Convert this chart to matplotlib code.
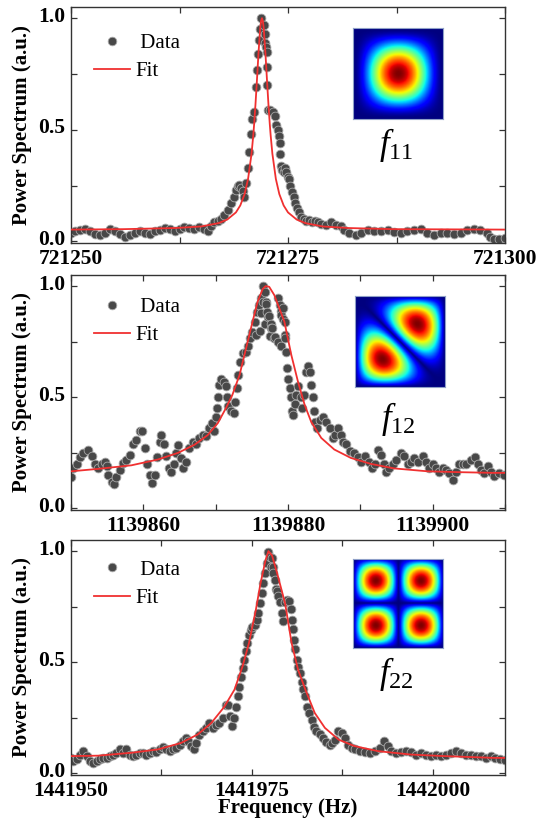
import numpy as np
import matplotlib
matplotlib.use('Agg')
import matplotlib.pyplot as plt
import matplotlib.transforms as mtransforms
from matplotlib.lines import Line2D

plt.rcParams['font.family'] = 'Liberation Serif'
plt.rcParams['mathtext.fontset'] = 'custom'
plt.rcParams['mathtext.rm'] = 'Liberation Serif'
plt.rcParams['mathtext.it'] = 'Liberation Serif:italic'

# ---- DATA (frequency offsets in Hz from the base frequency of each panel) ----
f11_base = 721250
f11_x = [0.0, 0.46, 1.03, 1.6, 2.18, 2.75, 3.33, 3.9, 4.47, 5.05, 5.62, 6.19, 6.77, 7.34, 7.91,
         8.49, 9.06, 9.63, 10.2, 10.78, 11.35, 11.93, 12.5, 13.07, 13.65, 14.22, 14.79, 15.37,
         15.75, 16.13, 16.51, 16.9, 17.28, 17.66, 18.04, 18.42, 18.8, 19.0, 19.19, 19.4, 19.57,
         19.8, 19.95, 20.15, 20.34, 20.53, 20.72, 20.91, 21.1, 21.29, 21.41, 21.56, 21.67, 21.79,
         21.94, 22.23, 22.31, 22.35, 22.5, 22.58, 22.58, 22.62, 22.73, 22.96, 23.27, 23.5, 23.65,
         23.81, 23.96, 24.04, 24.12, 24.23, 24.35, 24.5, 24.65, 24.81, 24.96, 25.12, 25.27, 25.42,
         25.65, 25.85, 26.04, 26.27, 26.54, 26.81, 27.12, 27.42, 27.73, 28.08, 28.46, 28.85, 29.42,
         30.0, 30.58, 31.15, 31.5, 32.07, 32.84, 33.41, 34.17, 34.94, 35.7, 36.47, 37.23, 38.0,
         38.76, 39.53, 40.29, 41.06, 41.82, 42.58, 43.35, 44.11, 44.88, 45.64, 46.41, 47.17, 47.94,
         48.32, 48.7, 49.3, 50.0]
f11_y = [0.040, 0.045, 0.050, 0.055, 0.045, 0.035, 0.030, 0.040, 0.055, 0.045, 0.035, 0.020, 0.030,
         0.040, 0.045, 0.040, 0.035, 0.045, 0.050, 0.060, 0.055, 0.045, 0.055, 0.065, 0.060, 0.055,
         0.065, 0.055, 0.045, 0.070, 0.085, 0.090, 0.100, 0.120, 0.140, 0.170, 0.200, 0.230, 0.250,
         0.255, 0.240, 0.225, 0.200, 0.260, 0.330, 0.400, 0.480, 0.550, 0.580, 0.690, 0.770, 0.840,
         0.900, 0.950, 1.000, 0.970, 0.930, 0.890, 0.870, 0.850, 0.780, 0.700, 0.590, 0.590, 0.580,
         0.560, 0.520, 0.500, 0.470, 0.440, 0.390, 0.340, 0.320, 0.310, 0.330, 0.310, 0.290, 0.280,
         0.250, 0.220, 0.200, 0.170, 0.150, 0.130, 0.110, 0.100, 0.090, 0.095, 0.085, 0.090, 0.085,
         0.080, 0.075, 0.085, 0.075, 0.070, 0.050, 0.037, 0.030, 0.037, 0.050, 0.045, 0.048, 0.050,
         0.042, 0.037, 0.045, 0.050, 0.055, 0.037, 0.030, 0.037, 0.037, 0.035, 0.037, 0.050, 0.055,
         0.050, 0.037, 0.022, 0.012, 0.010, 0.015]
f11_fit_x = [0, 6, 12, 15, 17, 18, 19, 19.5, 20, 20.4, 20.8, 21.0, 21.1, 21.25, 21.4, 21.6, 21.8,
             21.9, 22.0, 22.1, 22.2, 22.4, 22.6, 22.75, 22.9, 23.0, 23.2, 23.6, 24.0, 24.5, 25.0,
             26.0, 27.0, 29.0, 32.0, 37.0, 44.0, 50.0]
f11_fit_y = [0.053, 0.055, 0.060, 0.067, 0.082, 0.098, 0.130, 0.161, 0.212, 0.280, 0.393, 0.476,
             0.526, 0.612, 0.708, 0.843, 0.956, 0.988, 1.000, 0.988, 0.956, 0.843, 0.708, 0.612,
             0.526, 0.476, 0.393, 0.280, 0.212, 0.161, 0.130, 0.098, 0.082, 0.067, 0.060, 0.055,
             0.054, 0.053]

f12_base = 1139850
f12_x = [0.0, 0.32, 0.78, 1.24, 1.7, 2.39, 2.84, 3.3, 3.76, 4.22, 4.68, 4.91, 5.14, 5.6, 5.96, 6.28,
         6.74, 7.2, 7.66, 8.12, 8.58, 9.04, 9.5, 9.82, 10.18, 10.55, 10.87, 11.19, 11.56, 11.93,
         12.25, 12.48, 12.84, 13.17, 13.49, 13.85, 14.22, 14.54, 14.77, 15.14, 15.46, 15.92, 16.38,
         16.83, 17.29, 17.75, 18.21, 18.67, 19.13, 19.45, 19.82, 20.05, 20.18, 20.28, 20.41, 20.73,
         21.1, 21.42, 21.56, 21.74, 22.11, 22.48, 22.66, 22.94, 23.12, 23.39, 23.72, 24.17, 24.5,
         24.77, 25.09, 25.41, 25.61, 25.69, 26.01, 26.07, 26.3, 26.33, 26.53, 26.61, 26.76, 26.79,
         26.93, 26.99, 27.16, 27.22, 27.39, 27.45, 27.61, 27.68, 27.84, 28.07, 28.14, 28.6, 28.62,
         28.85, 29.06, 29.06, 29.08, 29.29, 29.31, 29.52, 29.54, 29.6, 29.77, 29.91, 30.0, 30.23,
         30.46, 30.5, 30.69, 30.92, 31.15, 31.38, 31.75, 31.93, 32.21, 32.53, 32.76, 32.99, 33.22,
         33.45, 33.59, 33.77, 34.05, 34.37, 34.83, 35.29, 35.75, 36.21, 36.53, 36.9, 37.26, 37.59,
         38.05, 38.51, 39.1, 39.66, 40.11, 40.67, 41.13, 41.59, 42.05, 42.41, 42.87, 43.24, 43.56,
         44.02, 44.48, 44.94, 45.63, 46.09, 46.55, 47.01, 47.47, 47.93, 48.62, 49.08, 49.54, 50.0,
         50.46, 50.92, 51.38, 51.84, 52.3, 52.76, 53.22, 53.68, 54.14, 54.6, 55.29, 55.84, 56.21,
         56.67, 57.13, 57.59, 58.05, 58.51, 59.2, 59.9]
f12_y = [0.14, 0.18, 0.20, 0.23, 0.25, 0.265, 0.235, 0.20, 0.18, 0.20, 0.21, 0.19, 0.15, 0.12, 0.108,
         0.14, 0.175, 0.205, 0.22, 0.24, 0.29, 0.31, 0.35, 0.35, 0.27, 0.20, 0.15, 0.115, 0.15, 0.23,
         0.30, 0.33, 0.29, 0.235, 0.18, 0.165, 0.20, 0.25, 0.285, 0.227, 0.18, 0.21, 0.27, 0.30,
         0.29, 0.317, 0.33, 0.325, 0.36, 0.385, 0.35, 0.41, 0.45, 0.50, 0.556, 0.58, 0.57, 0.55,
         0.50, 0.46, 0.44, 0.43, 0.48, 0.54, 0.60, 0.66, 0.70, 0.705, 0.73, 0.765, 0.795, 0.84, 0.78,
         0.885, 0.915, 0.80, 0.88, 0.945, 0.93, 1.0, 0.83, 0.975, 0.93, 0.92, 0.885, 0.86, 0.865,
         0.775, 0.83, 0.81, 0.81, 0.765, 0.77, 0.75, 0.945, 0.915, 0.89, 0.73, 0.87, 0.85, 0.90,
         0.78, 0.84, 0.765, 0.705, 0.63, 0.58, 0.54, 0.50, 0.44, 0.42, 0.47, 0.51, 0.55, 0.50, 0.45,
         0.51, 0.615, 0.64, 0.615, 0.556, 0.50, 0.44, 0.39, 0.36, 0.40, 0.41, 0.39, 0.36, 0.317,
         0.33, 0.36, 0.33, 0.30, 0.29, 0.257, 0.25, 0.23, 0.21, 0.235, 0.21, 0.18, 0.20, 0.265,
         0.24, 0.20, 0.165, 0.18, 0.20, 0.22, 0.25, 0.235, 0.20, 0.21, 0.227, 0.21, 0.235, 0.21,
         0.18, 0.20, 0.18, 0.165, 0.18, 0.175, 0.16, 0.13, 0.165, 0.20, 0.20, 0.20, 0.22, 0.23,
         0.20, 0.175, 0.16, 0.19, 0.165, 0.145, 0.16, 0.15]
f12_fit_x = [0, 3.76, 8.35, 12.0, 14.8, 17.1, 18.9, 20.3, 21.4, 22.3, 23.3, 24.2, 25.1, 25.8, 26.5,
             26.9, 27.4, 28.1, 28.8, 29.5, 30.46, 31.38, 32.3, 33.2, 34.6, 36.4, 38.7, 41.5, 44.7,
             49.3, 53.9, 58.5, 60]
f12_fit_y = [0.167, 0.178, 0.194, 0.22, 0.25, 0.287, 0.33, 0.384, 0.45, 0.51, 0.60, 0.72, 0.84,
             0.93, 0.987, 1.0, 0.997, 0.96, 0.90, 0.84, 0.69, 0.57, 0.466, 0.39, 0.317, 0.265,
             0.227, 0.20, 0.18, 0.167, 0.163, 0.16, 0.16]

f22_base = 1441950
f22_x = [0.0, 0.32, 0.78, 1.24, 1.7, 2.16, 2.61, 3.07, 3.53, 3.99, 4.45, 4.91, 5.37, 5.83, 6.28,
         6.74, 7.2, 7.66, 8.12, 8.58, 9.04, 9.5, 9.95, 10.41, 10.87, 11.33, 11.79, 12.25, 12.71,
         13.17, 13.62, 14.08, 14.54, 15.0, 15.46, 15.92, 16.24, 16.61, 16.97, 17.29, 17.75, 18.21,
         18.67, 19.13, 19.59, 20.05, 20.5, 20.96, 21.42, 21.74, 22.02, 22.25, 22.57, 22.8, 23.03,
         23.26, 23.49, 23.72, 23.94, 24.17, 24.4, 24.63, 24.86, 25.09, 25.41, 25.69, 25.92, 26.15,
         26.38, 26.61, 26.83, 27.06, 27.29, 27.52, 27.71, 27.75, 27.89, 27.98, 28.21, 28.35, 28.53,
         28.67, 28.9, 29.13, 29.36, 29.59, 29.82, 30.18, 30.37, 30.5, 30.64, 30.83, 31.0, 31.19,
         31.42, 31.65, 31.88, 32.11, 32.34, 32.57, 32.94, 33.26, 33.58, 33.94, 34.4, 34.86, 35.32,
         35.78, 36.12, 36.49, 36.95, 37.4, 37.86, 38.32, 38.78, 39.24, 39.93, 40.62, 41.3, 42.0,
         42.68, 43.28, 43.83, 44.29, 44.97, 45.66, 46.35, 47.04, 47.73, 48.41, 49.1, 49.79, 50.48,
         51.17, 51.85, 52.54, 53.23, 53.92, 54.61, 55.3, 55.98, 56.67, 57.36, 58.05, 58.6, 59.3, 60.0]
f22_y = [0.07, 0.055, 0.063, 0.085, 0.10, 0.078, 0.055, 0.048, 0.055, 0.063, 0.07, 0.07, 0.078,
         0.085, 0.093, 0.108, 0.093, 0.108, 0.085, 0.078, 0.085, 0.093, 0.093, 0.085, 0.093, 0.10,
         0.096, 0.108, 0.12, 0.108, 0.10, 0.108, 0.115, 0.13, 0.145, 0.16, 0.145, 0.123, 0.108,
         0.137, 0.175, 0.19, 0.205, 0.227, 0.205, 0.22, 0.227, 0.25, 0.31, 0.31, 0.257, 0.212, 0.25,
         0.30, 0.347, 0.39, 0.436, 0.474, 0.51, 0.55, 0.586, 0.623, 0.646, 0.66, 0.668, 0.69, 0.72,
         0.765, 0.81, 0.855, 0.90, 0.945, 0.997, 0.975, 0.93, 0.97, 0.93, 0.90, 0.87, 0.83, 0.82,
         0.80, 0.77, 0.72, 0.685, 0.77, 0.78, 0.775, 0.74, 0.69, 0.65, 0.60, 0.56, 0.51, 0.48, 0.45,
         0.41, 0.38, 0.35, 0.30, 0.27, 0.24, 0.21, 0.19, 0.176, 0.16, 0.14, 0.13, 0.137, 0.152, 0.19,
         0.18, 0.16, 0.13, 0.115, 0.108, 0.10, 0.096, 0.093, 0.10, 0.115, 0.145, 0.123, 0.10, 0.093,
         0.096, 0.10, 0.096, 0.085, 0.093, 0.085, 0.078, 0.085, 0.078, 0.085, 0.093, 0.10, 0.093,
         0.085, 0.085, 0.078, 0.078, 0.07, 0.078, 0.07, 0.065, 0.06]
f22_fit_x = [0, 3.76, 8.35, 12.0, 15.2, 17.5, 19.4, 21.2, 22.6, 23.7, 24.6, 25.55, 26.2, 26.9, 27.3,
             27.8, 28.5, 29.6, 30.5, 31.4, 32.4, 33.7, 35.1, 37.0, 39.2, 42.5, 47.0, 51.6, 58.5, 60]
f22_fit_y = [0.078, 0.08, 0.093, 0.108, 0.137, 0.175, 0.227, 0.30, 0.377, 0.48, 0.586, 0.735, 0.855,
             0.96, 1.0, 0.98, 0.90, 0.765, 0.586, 0.466, 0.377, 0.272, 0.205, 0.152, 0.123, 0.10,
             0.085, 0.078, 0.07, 0.07]

# x axis: (limits, labelled ticks, unlabelled ticks)
f11_ticks = ([721250, 721300], [721250, 721275, 721300], [721262.5, 721287.5])
f12_ticks = ([1139850, 1139910], [1139860, 1139880, 1139900], [1139850, 1139870, 1139890, 1139910])
f22_ticks = ([1441950, 1442010], [1441950, 1441975, 1442000], [1441962.5, 1441987.5])

mode_labels = [r'$f_{11}$', r'$f_{12}$', r'$f_{22}$']
mode_nm = [(1, 1), (1, 2), (2, 2)]
mode_gamma = [1.8, 1.0, 1.0]


def mode_image(n, m, gamma):
    g = np.linspace(0, 1, 120)
    X, Y = np.meshgrid(g, g)
    if (n, m) == (1, 2):
        psi = np.sin(np.pi * X) * np.sin(2 * np.pi * Y) + np.sin(2 * np.pi * X) * np.sin(np.pi * Y)
    else:
        psi = np.sin(n * np.pi * X) * np.sin(m * np.pi * Y)
    I = np.abs(psi) ** gamma
    return I / I.max()


W, H = 537, 825
fig = plt.figure(figsize=(W / 100, H / 100), dpi=100)

# axes boxes in pixels: (top, bottom)
boxes = [(7, 243), (275, 510), (540, 775)]
left_px, right_px = 71, 505
insets = [(353, 28, 443, 119), (355, 296, 445, 387), (353, 559, 443, 648)]
labels_pos = [(396, 145), (398, 419), (396, 674)]
legend_top = [0.888, 0.905, 0.915]

panels = [
    (f11_base, f11_x, f11_y, f11_fit_x, f11_fit_y, f11_ticks),
    (f12_base, f12_x, f12_y, f12_fit_x, f12_fit_y, f12_ticks),
    (f22_base, f22_x, f22_y, f22_fit_x, f22_fit_y, f22_ticks),
]

dot_face = '#484848'
dot_edge = '#a8a8a8'
fit_col = '#f03030'
lift = mtransforms.ScaledTranslation(0, 4 / 100, fig.dpi_scale_trans)  # y labels sit a bit high

for i, (base, dx, dy, fx, fy, ticks) in enumerate(panels):
    top, bot = boxes[i]
    ax = fig.add_axes([left_px / W, 1 - bot / H, (right_px - left_px) / W, (bot - top) / H])

    ax.scatter(base + np.array(dx), dy, s=40, c=dot_face, edgecolors=dot_edge,
               linewidths=0.6, zorder=2)
    ax.plot(base + np.array(fx), fy, color=fit_col, lw=1.3, zorder=3)

    lim, major, minor = ticks
    ax.set_xlim(lim)
    ax.set_ylim(-0.007, 1.05)
    ax.set_xticks(major)
    ax.set_xticks(minor, minor=True)
    ax.set_xticklabels([str(int(v)) for v in major])
    ax.set_yticks([0, 0.5, 1.0])
    ax.set_yticks([0.25, 0.75], minor=True)
    ax.set_yticklabels(['0.0', '0.5', '1.0'])
    ax.tick_params(which='both', direction='in', top=True, right=True, length=4,
                   width=0.9, color='#333333', labelsize=15.5, pad=4)
    ax.tick_params(axis='x', pad=4)
    plt.setp(ax.get_xticklabels() + ax.get_yticklabels(), fontweight='bold')
    for lbl in ax.get_yticklabels():
        lbl.set_transform(lbl.get_transform() + lift)
    for sp in ax.spines.values():
        sp.set_linewidth(1.0)
        sp.set_color('#333333')

    ax.set_ylabel('Power Spectrum (a.u.)', fontsize=15, fontweight='bold')
    ax.yaxis.set_label_coords(-0.089, 0.5)
    if i == 2:
        ax.set_xlabel('Frequency (Hz)', fontsize=15, fontweight='bold')
        ax.xaxis.set_label_coords(0.5, -0.1)

    h_data = Line2D([], [], ls='none', marker='o', ms=6.2, mfc=dot_face, mec=dot_edge, mew=0.6)
    h_fit = Line2D([], [], color=fit_col, lw=1.3)
    ax.legend([h_data, h_fit], [' Data', 'Fit'], loc='upper left',
              bbox_to_anchor=(0.052, legend_top[i]), frameon=False, fontsize=15,
              handlelength=1.75, handletextpad=0.25, labelspacing=0.42,
              borderpad=0, borderaxespad=0)

    # mode-shape inset
    x0, y0, x1, y1 = insets[i]
    iax = fig.add_axes([x0 / W, 1 - y1 / H, (x1 - x0) / W, (y1 - y0) / H])
    iax.imshow(mode_image(*mode_nm[i], mode_gamma[i]), cmap='jet', origin='lower',
               aspect='auto', interpolation='bilinear')
    iax.set_xticks([])
    iax.set_yticks([])
    for sp in iax.spines.values():
        sp.set_color('#8fa0c8')
        sp.set_linewidth(0.8)

    lx, ly = labels_pos[i]
    fig.text(lx / W, 1 - ly / H, mode_labels[i], fontsize=25, ha='center', va='center')

fig.savefig('out.png', dpi=100)
